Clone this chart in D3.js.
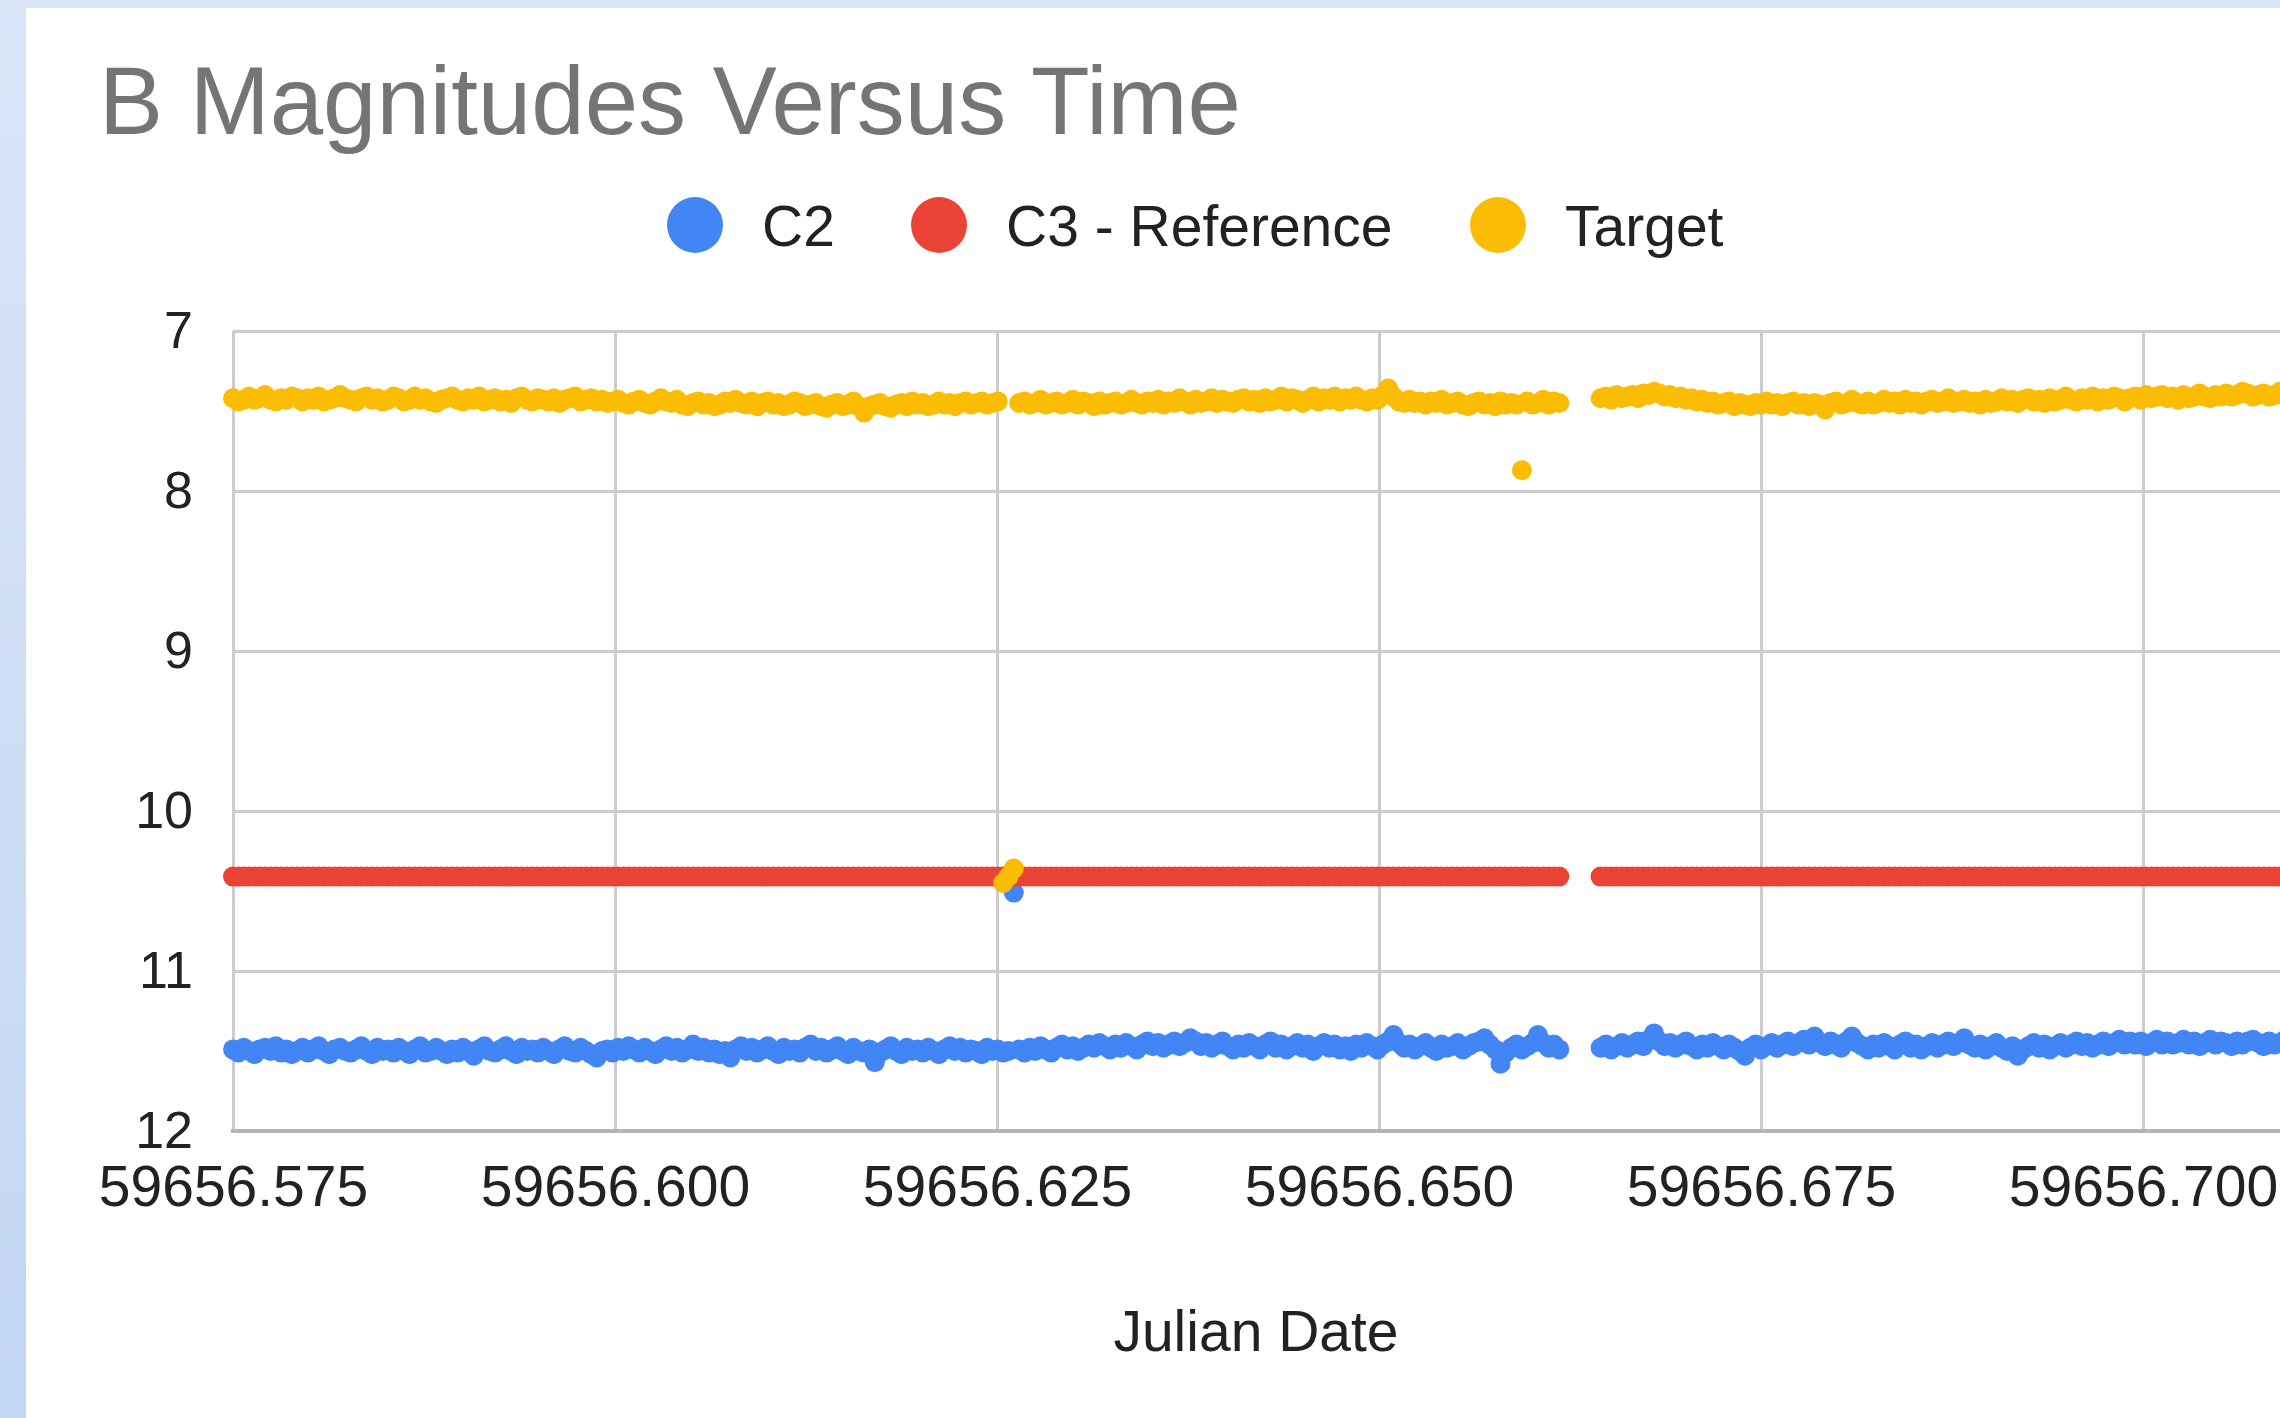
<!DOCTYPE html>
<html>
<head>
<meta charset="utf-8">
<script src="https://cdn.jsdelivr.net/npm/d3@7"></script>
<style>
  body { margin: 0; background: #ffffff; }
  svg { display: block; font-family: "Liberation Sans", Arial, sans-serif; }
</style>
</head>
<body>
<script>
// data
const julianDates = [
59656.57500,59656.57535,59656.57570,59656.57605,59656.57640,59656.57675,59656.57710,59656.57745,59656.57780,59656.57815,
59656.57850,59656.57885,59656.57920,59656.57955,59656.57990,59656.58025,59656.58060,59656.58095,59656.58130,59656.58165,
59656.58200,59656.58235,59656.58270,59656.58305,59656.58340,59656.58375,59656.58410,59656.58445,59656.58480,59656.58515,
59656.58550,59656.58585,59656.58620,59656.58655,59656.58690,59656.58725,59656.58760,59656.58795,59656.58830,59656.58865,
59656.58900,59656.58935,59656.58970,59656.59005,59656.59040,59656.59075,59656.59110,59656.59145,59656.59180,59656.59215,
59656.59250,59656.59285,59656.59320,59656.59355,59656.59390,59656.59425,59656.59460,59656.59495,59656.59530,59656.59565,
59656.59600,59656.59635,59656.59670,59656.59705,59656.59740,59656.59775,59656.59810,59656.59845,59656.59880,59656.59915,
59656.59950,59656.59985,59656.60020,59656.60055,59656.60090,59656.60125,59656.60160,59656.60195,59656.60230,59656.60265,
59656.60300,59656.60335,59656.60370,59656.60405,59656.60440,59656.60475,59656.60510,59656.60545,59656.60580,59656.60615,
59656.60650,59656.60685,59656.60720,59656.60755,59656.60790,59656.60825,59656.60860,59656.60895,59656.60930,59656.60965,
59656.61000,59656.61035,59656.61070,59656.61105,59656.61140,59656.61175,59656.61210,59656.61245,59656.61280,59656.61315,
59656.61350,59656.61385,59656.61420,59656.61455,59656.61490,59656.61525,59656.61560,59656.61595,59656.61630,59656.61665,
59656.61700,59656.61735,59656.61770,59656.61805,59656.61840,59656.61875,59656.61910,59656.61945,59656.61980,59656.62015,
59656.62050,59656.62085,59656.62120,59656.62155,59656.62190,59656.62225,59656.62260,59656.62295,59656.62330,59656.62365,
59656.62400,59656.62435,59656.62470,59656.62505,59656.62540,59656.62575,59656.62610,59656.62645,59656.62680,59656.62715,
59656.62750,59656.62785,59656.62820,59656.62855,59656.62890,59656.62925,59656.62960,59656.62995,59656.63030,59656.63065,
59656.63100,59656.63135,59656.63170,59656.63205,59656.63240,59656.63275,59656.63310,59656.63345,59656.63380,59656.63415,
59656.63450,59656.63485,59656.63520,59656.63555,59656.63590,59656.63625,59656.63660,59656.63695,59656.63730,59656.63765,
59656.63800,59656.63835,59656.63870,59656.63905,59656.63940,59656.63975,59656.64010,59656.64045,59656.64080,59656.64115,
59656.64150,59656.64185,59656.64220,59656.64255,59656.64290,59656.64325,59656.64360,59656.64395,59656.64430,59656.64465,
59656.64500,59656.64535,59656.64570,59656.64605,59656.64640,59656.64675,59656.64710,59656.64745,59656.64780,59656.64815,
59656.64850,59656.64885,59656.64920,59656.64955,59656.64990,59656.65025,59656.65060,59656.65095,59656.65130,59656.65165,
59656.65200,59656.65235,59656.65270,59656.65305,59656.65340,59656.65375,59656.65410,59656.65445,59656.65480,59656.65515,
59656.65550,59656.65585,59656.65620,59656.65655,59656.65690,59656.65725,59656.65760,59656.65795,59656.65830,59656.65865,
59656.65900,59656.65935,59656.65970,59656.66005,59656.66040,59656.66075,59656.66110,59656.66145,59656.66180,
59656.66450,59656.66485,59656.66520,59656.66555,59656.66590,59656.66625,59656.66660,59656.66695,59656.66730,59656.66765,
59656.66800,59656.66835,59656.66870,59656.66905,59656.66940,59656.66975,59656.67010,59656.67045,59656.67080,59656.67115,
59656.67150,59656.67185,59656.67220,59656.67255,59656.67290,59656.67325,59656.67360,59656.67395,59656.67430,59656.67465,
59656.67500,59656.67535,59656.67570,59656.67605,59656.67640,59656.67675,59656.67710,59656.67745,59656.67780,59656.67815,
59656.67850,59656.67885,59656.67920,59656.67955,59656.67990,59656.68025,59656.68060,59656.68095,59656.68130,59656.68165,
59656.68200,59656.68235,59656.68270,59656.68305,59656.68340,59656.68375,59656.68410,59656.68445,59656.68480,59656.68515,
59656.68550,59656.68585,59656.68620,59656.68655,59656.68690,59656.68725,59656.68760,59656.68795,59656.68830,59656.68865,
59656.68900,59656.68935,59656.68970,59656.69005,59656.69040,59656.69075,59656.69110,59656.69145,59656.69180,59656.69215,
59656.69250,59656.69285,59656.69320,59656.69355,59656.69390,59656.69425,59656.69460,59656.69495,59656.69530,59656.69565,
59656.69600,59656.69635,59656.69670,59656.69705,59656.69740,59656.69775,59656.69810,59656.69845,59656.69880,59656.69915,
59656.69950,59656.69985,59656.70020,59656.70055,59656.70090,59656.70125,59656.70160,59656.70195,59656.70230,59656.70265,
59656.70300,59656.70335,59656.70370,59656.70405,59656.70440,59656.70475,59656.70510,59656.70545,59656.70580,59656.70615,
59656.70650,59656.70685,59656.70720,59656.70755,59656.70790,59656.70825,59656.70860,59656.70895,59656.70930,59656.70965,
59656.71000,59656.71035,59656.71070
];

const c2Mags = [
11.49,11.51,11.48,11.50,11.52,11.49,11.48,11.50,11.47,11.51,
11.49,11.52,11.50,11.48,11.51,11.49,11.47,11.50,11.52,11.49,
11.48,11.50,11.51,11.49,11.47,11.50,11.52,11.48,11.50,11.49,
11.51,11.48,11.50,11.52,11.49,11.47,11.51,11.50,11.48,11.50,
11.52,11.49,11.51,11.48,11.50,11.53,11.49,11.47,11.50,11.51,
11.49,11.47,11.50,11.52,11.48,11.50,11.49,11.51,11.48,11.50,
11.52,11.49,11.47,11.50,11.51,11.48,11.50,11.52,11.54,11.50,
11.49,11.51,11.48,11.50,11.47,11.49,11.51,11.48,11.50,11.52,
11.49,11.47,11.50,11.48,11.51,11.49,11.46,11.50,11.48,11.51,
11.49,11.52,11.50,11.54,11.49,11.47,11.50,11.48,11.51,11.49,
11.47,11.50,11.52,11.48,11.50,11.49,11.51,11.48,11.46,11.50,
11.48,11.51,11.49,11.47,11.50,11.52,11.48,11.50,11.51,11.49,
11.57,11.51,11.49,11.47,11.50,11.52,11.48,11.50,11.49,11.51,
11.48,11.50,11.52,11.49,11.47,11.50,11.48,11.51,11.49,11.50,
11.52,11.48,11.50,11.49,11.51,11.50,10.51,11.49,11.51,11.48,
11.50,11.47,11.49,11.51,11.48,11.46,11.49,11.47,11.50,11.48,
11.46,11.48,11.45,11.47,11.49,11.46,11.48,11.45,11.47,11.49,
11.46,11.44,11.47,11.45,11.48,11.46,11.44,11.47,11.45,11.42,
11.44,11.47,11.45,11.48,11.46,11.44,11.47,11.49,11.46,11.48,
11.45,11.47,11.49,11.46,11.44,11.48,11.46,11.49,11.47,11.45,
11.48,11.46,11.50,11.47,11.45,11.48,11.46,11.49,11.47,11.50,
11.46,11.48,11.45,11.47,11.49,11.46,11.44,11.40,11.45,11.48,
11.46,11.49,11.47,11.45,11.48,11.50,11.46,11.48,11.47,11.45,
11.49,11.47,11.45,11.44,11.42,11.46,11.49,11.58,11.51,11.48,
11.46,11.49,11.47,11.45,11.40,11.45,11.48,11.46,11.49,
11.48,11.46,11.49,11.47,11.45,11.48,11.46,11.44,11.47,11.43,
11.39,11.44,11.47,11.45,11.48,11.46,11.44,11.47,11.49,11.46,
11.48,11.45,11.47,11.49,11.46,11.48,11.50,11.53,11.48,11.46,
11.49,11.47,11.45,11.48,11.46,11.44,11.47,11.45,11.43,11.46,
11.41,11.45,11.47,11.44,11.46,11.48,11.44,11.41,11.45,11.47,
11.49,11.46,11.48,11.45,11.47,11.49,11.46,11.44,11.48,11.46,
11.49,11.47,11.45,11.48,11.46,11.44,11.47,11.45,11.42,11.46,
11.48,11.46,11.49,11.47,11.45,11.48,11.50,11.47,11.53,11.49,
11.47,11.45,11.48,11.46,11.49,11.47,11.45,11.48,11.46,11.44,
11.47,11.45,11.48,11.46,11.44,11.47,11.45,11.43,11.46,11.44,
11.46,11.44,11.47,11.45,11.43,11.46,11.44,11.46,11.45,11.43,
11.46,11.44,11.47,11.45,11.43,11.46,11.44,11.45,11.47,11.44,
11.46,11.44,11.43,11.45,11.47,11.44,11.46,11.45,11.43,11.46,
11.44,11.46,11.45
];

const c3Mags = [
10.41,10.41,10.41,10.41,10.41,10.41,10.41,10.41,10.41,10.41,10.41,10.41,10.41,10.41,10.41,10.41,10.41,10.41,10.41,10.41,
10.41,10.41,10.41,10.41,10.41,10.41,10.41,10.41,10.41,10.41,10.41,10.41,10.41,10.41,10.41,10.41,10.41,10.41,10.41,10.41,
10.41,10.41,10.41,10.41,10.41,10.41,10.41,10.41,10.41,10.41,10.41,10.41,10.41,10.41,10.41,10.41,10.41,10.41,10.41,10.41,
10.41,10.41,10.41,10.41,10.41,10.41,10.41,10.41,10.41,10.41,10.41,10.41,10.41,10.41,10.41,10.41,10.41,10.41,10.41,10.41,
10.41,10.41,10.41,10.41,10.41,10.41,10.41,10.41,10.41,10.41,10.41,10.41,10.41,10.41,10.41,10.41,10.41,10.41,10.41,10.41,
10.41,10.41,10.41,10.41,10.41,10.41,10.41,10.41,10.41,10.41,10.41,10.41,10.41,10.41,10.41,10.41,10.41,10.41,10.41,10.41,
10.41,10.41,10.41,10.41,10.41,10.41,10.41,10.41,10.41,10.41,10.41,10.41,10.41,10.41,10.41,10.41,10.41,10.41,10.41,10.41,
10.41,10.41,10.41,10.41,10.41,10.41,10.41,10.41,10.41,10.41,10.41,10.41,10.41,10.41,10.41,10.41,10.41,10.41,10.41,10.41,
10.41,10.41,10.41,10.41,10.41,10.41,10.41,10.41,10.41,10.41,10.41,10.41,10.41,10.41,10.41,10.41,10.41,10.41,10.41,10.41,
10.41,10.41,10.41,10.41,10.41,10.41,10.41,10.41,10.41,10.41,10.41,10.41,10.41,10.41,10.41,10.41,10.41,10.41,10.41,10.41,
10.41,10.41,10.41,10.41,10.41,10.41,10.41,10.41,10.41,10.41,10.41,10.41,10.41,10.41,10.41,10.41,10.41,10.41,10.41,10.41,
10.41,10.41,10.41,10.41,10.41,10.41,10.41,10.41,10.41,10.41,10.41,10.41,10.41,10.41,10.41,10.41,10.41,10.41,10.41,10.41,
10.41,10.41,10.41,10.41,10.41,10.41,10.41,10.41,10.41,
10.41,10.41,10.41,10.41,10.41,10.41,10.41,10.41,10.41,10.41,10.41,10.41,10.41,10.41,10.41,10.41,10.41,10.41,10.41,10.41,
10.41,10.41,10.41,10.41,10.41,10.41,10.41,10.41,10.41,10.41,10.41,10.41,10.41,10.41,10.41,10.41,10.41,10.41,10.41,10.41,
10.41,10.41,10.41,10.41,10.41,10.41,10.41,10.41,10.41,10.41,10.41,10.41,10.41,10.41,10.41,10.41,10.41,10.41,10.41,10.41,
10.41,10.41,10.41,10.41,10.41,10.41,10.41,10.41,10.41,10.41,10.41,10.41,10.41,10.41,10.41,10.41,10.41,10.41,10.41,10.41,
10.41,10.41,10.41,10.41,10.41,10.41,10.41,10.41,10.41,10.41,10.41,10.41,10.41,10.41,10.41,10.41,10.41,10.41,10.41,10.41,
10.41,10.41,10.41,10.41,10.41,10.41,10.41,10.41,10.41,10.41,10.41,10.41,10.41,10.41,10.41,10.41,10.41,10.41,10.41,10.41,
10.41,10.41,10.41,10.41,10.41,10.41,10.41,10.41,10.41,10.41,10.41,10.41,10.41
];

const targetMags = [
7.42,7.44,7.43,7.41,7.43,7.42,7.40,7.43,7.44,7.42,
7.43,7.41,7.42,7.44,7.42,7.43,7.41,7.44,7.43,7.42,
7.40,7.42,7.43,7.44,7.42,7.41,7.43,7.42,7.44,7.43,
7.41,7.42,7.44,7.43,7.41,7.43,7.42,7.44,7.45,7.43,
7.42,7.41,7.43,7.44,7.42,7.43,7.41,7.44,7.43,7.42,
7.44,7.43,7.45,7.42,7.41,7.43,7.44,7.42,7.43,7.44,
7.42,7.45,7.43,7.42,7.41,7.44,7.43,7.42,7.44,7.43,
7.45,7.44,7.43,7.45,7.46,7.44,7.43,7.45,7.46,7.44,
7.42,7.44,7.45,7.43,7.46,7.47,7.45,7.44,7.46,7.45,
7.47,7.46,7.44,7.45,7.43,7.45,7.46,7.44,7.47,7.45,
7.44,7.46,7.45,7.47,7.46,7.44,7.45,7.47,7.46,7.45,
7.47,7.48,7.46,7.45,7.47,7.46,7.44,7.47,7.51,7.47,
7.46,7.45,7.47,7.48,7.46,7.45,7.47,7.44,7.46,7.45,
7.47,7.46,7.44,7.46,7.45,7.47,7.45,7.44,7.46,7.45,
7.44,7.46,7.45,7.44,10.45,10.41,10.36,7.45,7.44,7.46,
7.45,7.43,7.46,7.45,7.44,7.46,7.45,7.43,7.46,7.44,
7.45,7.47,7.44,7.46,7.45,7.44,7.46,7.45,7.43,7.45,
7.46,7.44,7.45,7.43,7.46,7.44,7.45,7.42,7.44,7.46,
7.43,7.45,7.44,7.42,7.45,7.43,7.44,7.45,7.43,7.42,
7.44,7.43,7.45,7.42,7.44,7.43,7.41,7.44,7.42,7.43,
7.45,7.43,7.41,7.44,7.42,7.43,7.41,7.44,7.42,7.43,
7.41,7.43,7.44,7.42,7.43,7.40,7.36,7.41,7.44,7.45,
7.43,7.45,7.44,7.46,7.44,7.45,7.43,7.46,7.45,7.44,
7.46,7.47,7.45,7.44,7.46,7.45,7.47,7.44,7.46,7.45,
7.46,7.87,7.44,7.46,7.45,7.43,7.46,7.44,7.45,
7.42,7.41,7.43,7.40,7.42,7.41,7.40,7.42,7.39,7.40,
7.38,7.39,7.41,7.40,7.42,7.41,7.43,7.42,7.44,7.43,
7.45,7.44,7.46,7.45,7.44,7.47,7.45,7.46,7.47,7.45,
7.46,7.44,7.46,7.45,7.47,7.45,7.44,7.46,7.45,7.47,
7.45,7.46,7.49,7.45,7.44,7.46,7.45,7.43,7.45,7.46,
7.44,7.46,7.45,7.43,7.45,7.44,7.46,7.43,7.45,7.44,
7.46,7.44,7.43,7.45,7.44,7.42,7.45,7.44,7.43,7.45,
7.44,7.46,7.43,7.45,7.44,7.42,7.44,7.43,7.45,7.43,
7.42,7.44,7.43,7.45,7.42,7.44,7.43,7.41,7.43,7.44,
7.42,7.43,7.41,7.44,7.42,7.43,7.41,7.42,7.44,7.42,
7.41,7.43,7.40,7.42,7.41,7.40,7.42,7.41,7.43,7.40,
7.42,7.41,7.39,7.41,7.42,7.40,7.41,7.39,7.41,7.40,
7.38,7.39,7.41,7.40,7.39,7.41,7.40,7.38,7.40,7.41,
7.39,7.40,7.41
];

const seriesNames = ["C2", "C3 - Reference", "Target"];
const seriesColors = ["#4285F4", "#EA4335", "#FBBC04"];
const xTickValues = [59656.575, 59656.600, 59656.625, 59656.650, 59656.675, 59656.700];
const yTickValues = [7, 8, 9, 10, 11, 12];

// layout
const width = 2280;
const height = 1418;
const plotLeft = 233;
const plotTop = 331;
const plotBottom = 1131;
const plotRight = width;
const dotRadius = 10;

const svg = d3.select("body")
    .append("svg")
    .attr("width", width)
    .attr("height", height);

// light blue frame round the white card
const grad = svg.append("defs").append("linearGradient")
    .attr("id", "frame")
    .attr("x1", 0).attr("y1", 0).attr("x2", 0).attr("y2", 1);
grad.append("stop").attr("offset", "0%").attr("stop-color", "#d9e6f8");
grad.append("stop").attr("offset", "100%").attr("stop-color", "#c3d6f4");
svg.append("rect").attr("width", width).attr("height", height).attr("fill", "url(#frame)");
svg.append("rect").attr("x", 26).attr("y", 8).attr("width", width - 26).attr("height", height - 8).attr("fill", "#ffffff");

//Scales
const xScale = d3.scaleLinear()
    .domain([59656.575, 59656.700])
    .range([plotLeft, 2143]);

const yScale = d3.scaleLinear()
    .domain([7, 12])
    .range([plotTop, plotBottom]);

//Gridlines through the axes
const yGrid = svg.append("g")
    .attr("transform", "translate(" + plotLeft + ",0)")
    .call(d3.axisLeft(yScale)
        .tickValues(yTickValues)
        .tickFormat(d3.format("d"))
        .tickSize(-(plotRight - plotLeft))
        .tickPadding(40));
yGrid.select(".domain").remove();
yGrid.selectAll("line").attr("stroke", "#cccccc").attr("stroke-width", 3);
yGrid.selectAll("text")
    .attr("fill", "#222222")
    .style("font-size", "52px")
    .style("font-family", "'Liberation Sans', Arial, sans-serif");

const xGrid = svg.append("g")
    .attr("transform", "translate(0," + plotBottom + ")")
    .call(d3.axisBottom(xScale)
        .tickValues(xTickValues)
        .tickFormat(d3.format(".3f"))
        .tickSize(-(plotBottom - plotTop))
        .tickPadding(35));
xGrid.select(".domain").remove();
xGrid.selectAll("line").attr("stroke", "#cccccc").attr("stroke-width", 3);
xGrid.selectAll("text")
    .attr("fill", "#222222")
    .style("font-size", "57px")
    .style("font-family", "'Liberation Sans', Arial, sans-serif");

// darker base line
svg.append("line")
    .attr("x1", plotLeft - 2).attr("x2", plotRight)
    .attr("y1", yScale(12)).attr("y2", yScale(12))
    .attr("stroke", "#b5b5b5")
    .attr("stroke-width", 4);

//Points
const seriesMags = [c2Mags, c3Mags, targetMags];
seriesMags.forEach((mags, i) => {
    const pts = julianDates.map((t, j) => ({ t: t, m: mags[j] })).filter(d => d.m != null);
    svg.append("g")
        .selectAll("circle")
        .data(pts)
        .enter()
        .append("circle")
        .attr("cx", d => xScale(d.t))
        .attr("cy", d => yScale(d.m))
        .attr("r", dotRadius)
        .attr("fill", seriesColors[i]);
});

//Title
svg.append("text")
    .attr("x", 99)
    .attr("y", 134)
    .attr("fill", "#757575")
    .style("font-size", "96px")
    .text("B Magnitudes Versus Time");

//Legend
const legendX = [695, 939, 1498];
const legend = svg.append("g");
seriesNames.forEach((name, i) => {
    legend.append("circle")
        .attr("cx", legendX[i])
        .attr("cy", 225)
        .attr("r", 28)
        .attr("fill", seriesColors[i]);
    legend.append("text")
        .attr("x", legendX[i] + 67)
        .attr("y", 225)
        .attr("dy", "0.36em")
        .attr("fill", "#222222")
        .style("font-size", "57px")
        .text(name);
});

//Axis title
svg.append("text")
    .attr("x", 1256)
    .attr("y", 1330)
    .attr("dy", "0.36em")
    .attr("text-anchor", "middle")
    .attr("fill", "#222222")
    .style("font-size", "57px")
    .text("Julian Date");
</script>
</body>
</html>
